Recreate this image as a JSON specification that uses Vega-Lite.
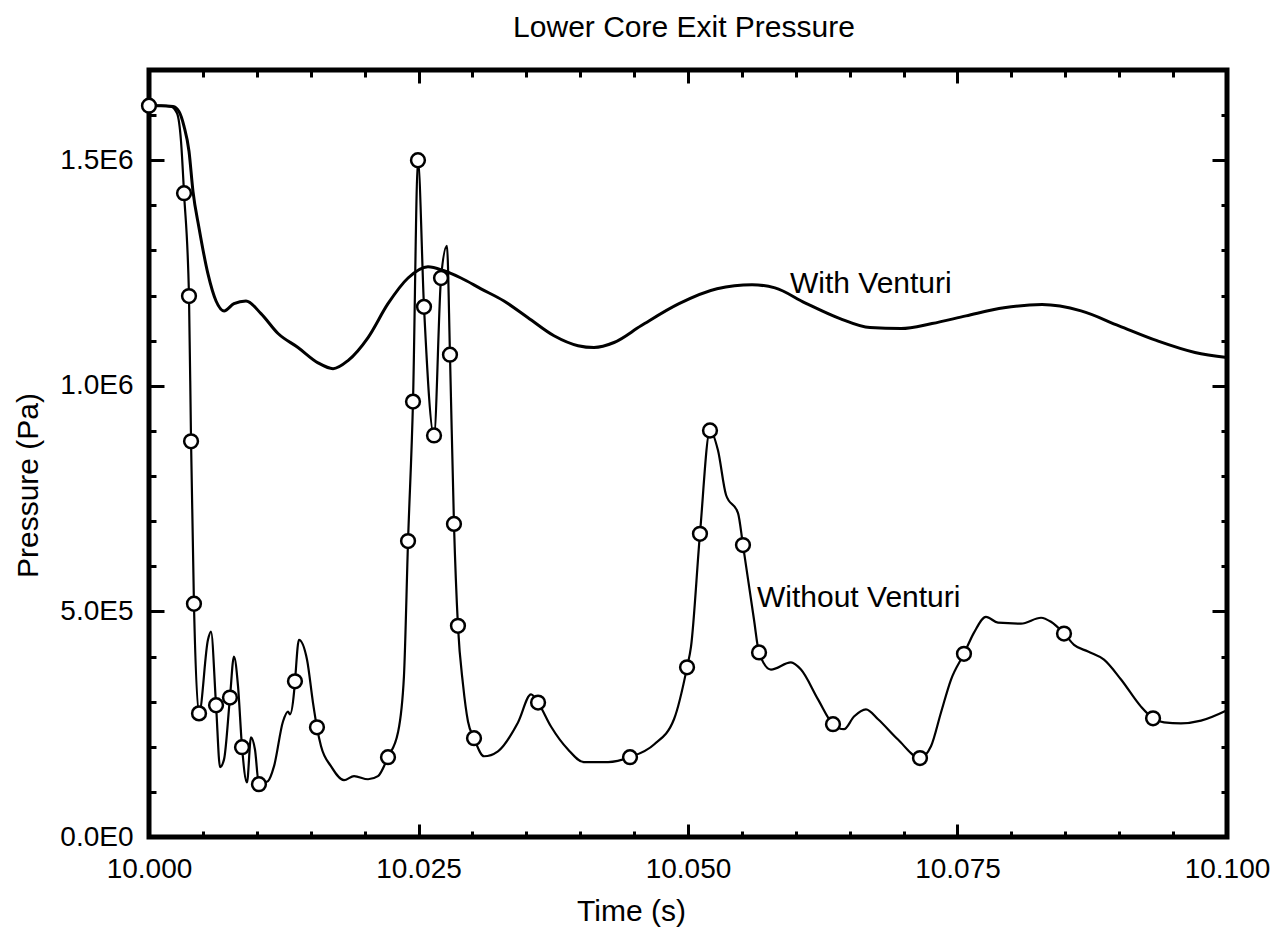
{
  "$schema": "https://vega.github.io/schema/vega-lite/v6.json",
  "width": 1078,
  "height": 767,
  "autosize": {"type": "none"},
  "padding": {"left": 149, "top": 70, "right": 51, "bottom": 94},
  "background": "white",
  "title": {
    "text": "Lower Core Exit Pressure",
    "fontSize": 30,
    "font": "Liberation Sans",
    "fontWeight": "normal",
    "color": "black",
    "anchor": "middle",
    "baseline": "alphabetic",
    "frame": "group",
    "offset": 2,
    "dx": -4
  },
  "datasets": {
    "without": [
      {"time": 10.00000, "pressure": 1621000},
      {"time": 10.00111, "pressure": 1621000},
      {"time": 10.00204, "pressure": 1619000},
      {"time": 10.00260, "pressure": 1604000},
      {"time": 10.00297, "pressure": 1542000},
      {"time": 10.00325, "pressure": 1427000},
      {"time": 10.00371, "pressure": 1199000},
      {"time": 10.00390, "pressure": 877000},
      {"time": 10.00417, "pressure": 517000},
      {"time": 10.00464, "pressure": 274000},
      {"time": 10.00547, "pressure": 437000},
      {"time": 10.00575, "pressure": 455000},
      {"time": 10.00622, "pressure": 292000},
      {"time": 10.00659, "pressure": 155000},
      {"time": 10.00696, "pressure": 172000},
      {"time": 10.00751, "pressure": 309000},
      {"time": 10.00788, "pressure": 400000},
      {"time": 10.00826, "pressure": 334000},
      {"time": 10.00863, "pressure": 199000},
      {"time": 10.00909, "pressure": 121000},
      {"time": 10.00946, "pressure": 221000},
      {"time": 10.00983, "pressure": 194000},
      {"time": 10.01020, "pressure": 117000},
      {"time": 10.01104, "pressure": 124000},
      {"time": 10.01160, "pressure": 157000},
      {"time": 10.01243, "pressure": 256000},
      {"time": 10.01289, "pressure": 278000},
      {"time": 10.01308, "pressure": 272000},
      {"time": 10.01345, "pressure": 320000},
      {"time": 10.01354, "pressure": 345000},
      {"time": 10.01391, "pressure": 437000},
      {"time": 10.01466, "pressure": 393000},
      {"time": 10.01521, "pressure": 298000},
      {"time": 10.01558, "pressure": 243000},
      {"time": 10.01596, "pressure": 201000},
      {"time": 10.01688, "pressure": 157000},
      {"time": 10.01809, "pressure": 126000},
      {"time": 10.01902, "pressure": 135000},
      {"time": 10.02032, "pressure": 128000},
      {"time": 10.02124, "pressure": 135000},
      {"time": 10.02217, "pressure": 177000},
      {"time": 10.02310, "pressure": 232000},
      {"time": 10.02365, "pressure": 356000},
      {"time": 10.02403, "pressure": 656000},
      {"time": 10.02449, "pressure": 965000},
      {"time": 10.02495, "pressure": 1500000},
      {"time": 10.02551, "pressure": 1175000},
      {"time": 10.02644, "pressure": 890000},
      {"time": 10.02709, "pressure": 1239000},
      {"time": 10.02764, "pressure": 1310000},
      {"time": 10.02792, "pressure": 1069000},
      {"time": 10.02829, "pressure": 694000},
      {"time": 10.02866, "pressure": 468000},
      {"time": 10.02913, "pressure": 338000},
      {"time": 10.02959, "pressure": 256000},
      {"time": 10.03015, "pressure": 219000},
      {"time": 10.03108, "pressure": 179000},
      {"time": 10.03237, "pressure": 190000},
      {"time": 10.03423, "pressure": 254000},
      {"time": 10.03544, "pressure": 316000},
      {"time": 10.03609, "pressure": 298000},
      {"time": 10.03729, "pressure": 245000},
      {"time": 10.03887, "pressure": 194000},
      {"time": 10.04035, "pressure": 166000},
      {"time": 10.04258, "pressure": 166000},
      {"time": 10.04462, "pressure": 177000},
      {"time": 10.04685, "pressure": 205000},
      {"time": 10.04870, "pressure": 261000},
      {"time": 10.04991, "pressure": 376000},
      {"time": 10.05028, "pressure": 422000},
      {"time": 10.05111, "pressure": 672000},
      {"time": 10.05204, "pressure": 901000},
      {"time": 10.05278, "pressure": 857000},
      {"time": 10.05353, "pressure": 758000},
      {"time": 10.05464, "pressure": 718000},
      {"time": 10.05510, "pressure": 647000},
      {"time": 10.05612, "pressure": 482000},
      {"time": 10.05659, "pressure": 409000},
      {"time": 10.05770, "pressure": 371000},
      {"time": 10.05955, "pressure": 387000},
      {"time": 10.06048, "pressure": 371000},
      {"time": 10.06206, "pressure": 305000},
      {"time": 10.06345, "pressure": 250000},
      {"time": 10.06447, "pressure": 239000},
      {"time": 10.06540, "pressure": 267000},
      {"time": 10.06651, "pressure": 283000},
      {"time": 10.06763, "pressure": 261000},
      {"time": 10.06948, "pressure": 216000},
      {"time": 10.07152, "pressure": 175000},
      {"time": 10.07254, "pressure": 201000},
      {"time": 10.07347, "pressure": 276000},
      {"time": 10.07440, "pressure": 349000},
      {"time": 10.07560, "pressure": 406000},
      {"time": 10.07653, "pressure": 453000},
      {"time": 10.07764, "pressure": 488000},
      {"time": 10.07876, "pressure": 475000},
      {"time": 10.08089, "pressure": 473000},
      {"time": 10.08275, "pressure": 486000},
      {"time": 10.08367, "pressure": 477000},
      {"time": 10.08488, "pressure": 451000},
      {"time": 10.08581, "pressure": 426000},
      {"time": 10.08711, "pressure": 411000},
      {"time": 10.08859, "pressure": 393000},
      {"time": 10.09017, "pressure": 349000},
      {"time": 10.09202, "pressure": 289000},
      {"time": 10.09314, "pressure": 263000},
      {"time": 10.09416, "pressure": 254000},
      {"time": 10.09573, "pressure": 252000},
      {"time": 10.09759, "pressure": 258000},
      {"time": 10.10000, "pressure": 281000}
    ],
    "markers": [
      {"time": 10.00000, "pressure": 1621000},
      {"time": 10.00325, "pressure": 1427000},
      {"time": 10.00371, "pressure": 1199000},
      {"time": 10.00390, "pressure": 877000},
      {"time": 10.00417, "pressure": 517000},
      {"time": 10.00464, "pressure": 274000},
      {"time": 10.00622, "pressure": 292000},
      {"time": 10.00751, "pressure": 309000},
      {"time": 10.00863, "pressure": 199000},
      {"time": 10.01020, "pressure": 117000},
      {"time": 10.01354, "pressure": 345000},
      {"time": 10.01558, "pressure": 243000},
      {"time": 10.02217, "pressure": 177000},
      {"time": 10.02403, "pressure": 656000},
      {"time": 10.02449, "pressure": 965000},
      {"time": 10.02495, "pressure": 1500000},
      {"time": 10.02551, "pressure": 1175000},
      {"time": 10.02644, "pressure": 890000},
      {"time": 10.02709, "pressure": 1239000},
      {"time": 10.02792, "pressure": 1069000},
      {"time": 10.02829, "pressure": 694000},
      {"time": 10.02866, "pressure": 468000},
      {"time": 10.03015, "pressure": 219000},
      {"time": 10.03609, "pressure": 298000},
      {"time": 10.04462, "pressure": 177000},
      {"time": 10.04991, "pressure": 376000},
      {"time": 10.05111, "pressure": 672000},
      {"time": 10.05204, "pressure": 901000},
      {"time": 10.05510, "pressure": 647000},
      {"time": 10.05659, "pressure": 409000},
      {"time": 10.06345, "pressure": 250000},
      {"time": 10.07152, "pressure": 175000},
      {"time": 10.07560, "pressure": 406000},
      {"time": 10.08488, "pressure": 451000},
      {"time": 10.09314, "pressure": 263000}
    ],
    "with": [
      {"time": 10.00000, "pressure": 1621000},
      {"time": 10.00111, "pressure": 1621000},
      {"time": 10.00223, "pressure": 1619000},
      {"time": 10.00278, "pressure": 1608000},
      {"time": 10.00325, "pressure": 1575000},
      {"time": 10.00371, "pressure": 1520000},
      {"time": 10.00408, "pressure": 1431000},
      {"time": 10.00464, "pressure": 1350000},
      {"time": 10.00547, "pressure": 1248000},
      {"time": 10.00622, "pressure": 1188000},
      {"time": 10.00696, "pressure": 1166000},
      {"time": 10.00788, "pressure": 1182000},
      {"time": 10.00900, "pressure": 1188000},
      {"time": 10.01039, "pressure": 1160000},
      {"time": 10.01197, "pressure": 1116000},
      {"time": 10.01382, "pressure": 1085000},
      {"time": 10.01568, "pressure": 1051000},
      {"time": 10.01707, "pressure": 1038000},
      {"time": 10.01846, "pressure": 1056000},
      {"time": 10.02032, "pressure": 1107000},
      {"time": 10.02217, "pressure": 1182000},
      {"time": 10.02403, "pressure": 1239000},
      {"time": 10.02588, "pressure": 1264000},
      {"time": 10.02737, "pressure": 1255000},
      {"time": 10.02894, "pressure": 1239000},
      {"time": 10.03080, "pressure": 1215000},
      {"time": 10.03293, "pressure": 1188000},
      {"time": 10.03516, "pressure": 1151000},
      {"time": 10.03757, "pressure": 1111000},
      {"time": 10.03980, "pressure": 1089000},
      {"time": 10.04128, "pressure": 1085000},
      {"time": 10.04314, "pressure": 1096000},
      {"time": 10.04564, "pressure": 1133000},
      {"time": 10.04917, "pressure": 1182000},
      {"time": 10.05269, "pressure": 1215000},
      {"time": 10.05594, "pressure": 1224000},
      {"time": 10.05807, "pressure": 1217000},
      {"time": 10.06085, "pressure": 1184000},
      {"time": 10.06410, "pressure": 1149000},
      {"time": 10.06688, "pressure": 1129000},
      {"time": 10.06976, "pressure": 1127000},
      {"time": 10.07263, "pressure": 1138000},
      {"time": 10.07579, "pressure": 1155000},
      {"time": 10.07931, "pressure": 1173000},
      {"time": 10.08284, "pressure": 1180000},
      {"time": 10.08646, "pressure": 1166000},
      {"time": 10.08998, "pressure": 1133000},
      {"time": 10.09351, "pressure": 1100000},
      {"time": 10.09703, "pressure": 1074000},
      {"time": 10.10000, "pressure": 1063000}
    ],
    "labels": [
      {"label": "With Venturi", "time": 10.05946, "pressure": 1206000},
      {"label": "Without Venturi", "time": 10.05640, "pressure": 510000}
    ]
  },
  "layer": [
    {
      "data": {"name": "without"},
      "mark": {"type": "line", "color": "black", "strokeWidth": 2.2, "interpolate": "monotone"},
      "encoding": {
        "x": {
          "field": "time", "type": "quantitative",
          "scale": {"domain": [10, 10.1], "nice": false, "zero": false},
          "axis": {
            "orient": "bottom",
            "values": [10, 10.025, 10.05, 10.075, 10.1],
            "format": ".3f",
            "ticks": false, "tickSize": 0,
            "labelFontSize": 28, "labelBaseline": "alphabetic", "labelPadding": 40,
            "labelFlush": false, "labelOverlap": false,
            "title": "Time (s)", "titleFontSize": 30,
            "titleX": 482, "titleY": 83, "titleBaseline": "alphabetic", "titleAlign": "center"
          }
        },
        "y": {
          "field": "pressure", "type": "quantitative",
          "scale": {"domain": [0, 1700000], "nice": false, "zero": false},
          "axis": {
            "orient": "left",
            "values": [0, 500000, 1000000, 1500000],
            "labelExpr": "replace(upper(format(datum.value, '.1e')), '+', '')",
            "ticks": false, "tickSize": 0,
            "labelFontSize": 28, "labelPadding": 16, "labelBaseline": "middle",
            "labelFlush": false, "labelOverlap": false,
            "title": "Pressure (Pa)", "titleFontSize": 30, "titleAngle": -90,
            "titleX": -121, "titleY": 415, "titleAlign": "center", "titleBaseline": "middle"
          }
        }
      }
    },
    {
      "data": {"name": "with"},
      "mark": {"type": "line", "color": "black", "strokeWidth": 3, "interpolate": "monotone"},
      "encoding": {
        "x": {
          "field": "time", "type": "quantitative",
          "scale": {"domain": [10, 10.1], "nice": false, "zero": false},
          "axis": {"orient": "bottom", "values": [10.025, 10.05, 10.075], "labels": false, "title": null, "tickSize": 13, "offset": -13}
        },
        "y": {
          "field": "pressure", "type": "quantitative",
          "scale": {"domain": [0, 1700000], "nice": false, "zero": false},
          "axis": {"orient": "left", "values": [500000, 1000000, 1500000], "labels": false, "title": null, "tickSize": 15, "offset": -15}
        }
      }
    },
    {
      "data": {"name": "markers"},
      "mark": {"type": "point", "shape": "circle", "filled": true, "fill": "white", "stroke": "black", "strokeWidth": 2.5, "size": 190, "opacity": 1},
      "encoding": {
        "x": {
          "field": "time", "type": "quantitative",
          "scale": {"domain": [10, 10.1], "nice": false, "zero": false},
          "axis": {"orient": "bottom", "values": [10.005, 10.01, 10.015, 10.02, 10.03, 10.035, 10.04, 10.045, 10.055, 10.06, 10.065, 10.07, 10.08, 10.085, 10.09, 10.095], "labels": false, "title": null, "tickSize": 6, "offset": -6}
        },
        "y": {
          "field": "pressure", "type": "quantitative",
          "scale": {"domain": [0, 1700000], "nice": false, "zero": false},
          "axis": {"orient": "left", "values": [100000, 200000, 300000, 400000, 600000, 700000, 800000, 900000, 1100000, 1200000, 1300000, 1400000, 1600000], "labels": false, "title": null, "tickSize": 7, "offset": -7}
        }
      }
    },
    {
      "data": {"name": "labels"},
      "transform": [{"filter": "datum.label === 'With Venturi'"}],
      "mark": {"type": "text", "align": "left", "baseline": "alphabetic", "fontSize": 30, "font": "Liberation Sans", "color": "black"},
      "encoding": {
        "x": {
          "field": "time", "type": "quantitative",
          "scale": {"domain": [10, 10.1], "nice": false, "zero": false},
          "axis": {"orient": "top", "values": [10.025, 10.05, 10.075], "labels": false, "title": null, "tickSize": 13, "offset": -13}
        },
        "y": {
          "field": "pressure", "type": "quantitative",
          "scale": {"domain": [0, 1700000], "nice": false, "zero": false},
          "axis": {"orient": "right", "values": [500000, 1000000, 1500000], "labels": false, "title": null, "tickSize": 15, "offset": -15}
        },
        "text": {"field": "label"}
      }
    },
    {
      "data": {"name": "labels"},
      "transform": [{"filter": "datum.label === 'Without Venturi'"}],
      "mark": {"type": "text", "align": "left", "baseline": "alphabetic", "fontSize": 30, "font": "Liberation Sans", "color": "black"},
      "encoding": {
        "x": {
          "field": "time", "type": "quantitative",
          "scale": {"domain": [10, 10.1], "nice": false, "zero": false},
          "axis": {"orient": "top", "values": [10.005, 10.01, 10.015, 10.02, 10.03, 10.035, 10.04, 10.045, 10.055, 10.06, 10.065, 10.07, 10.08, 10.085, 10.09, 10.095], "labels": false, "title": null, "tickSize": 7, "offset": -7}
        },
        "y": {
          "field": "pressure", "type": "quantitative",
          "scale": {"domain": [0, 1700000], "nice": false, "zero": false},
          "axis": {"orient": "right", "values": [100000, 200000, 300000, 400000, 600000, 700000, 800000, 900000, 1100000, 1200000, 1300000, 1400000, 1600000], "labels": false, "title": null, "tickSize": 6, "offset": -6}
        },
        "text": {"field": "label"}
      }
    }
  ],
  "resolve": {"axis": {"x": "independent", "y": "independent"}},
  "config": {
    "view": {"stroke": "black", "strokeWidth": 5},
    "axis": {
      "domain": false, "grid": false,
      "tickColor": "black", "tickWidth": 3,
      "labelColor": "black", "titleColor": "black",
      "labelFont": "Liberation Sans", "titleFont": "Liberation Sans",
      "titleFontWeight": "normal", "labelFontWeight": "normal"
    }
  }
}
